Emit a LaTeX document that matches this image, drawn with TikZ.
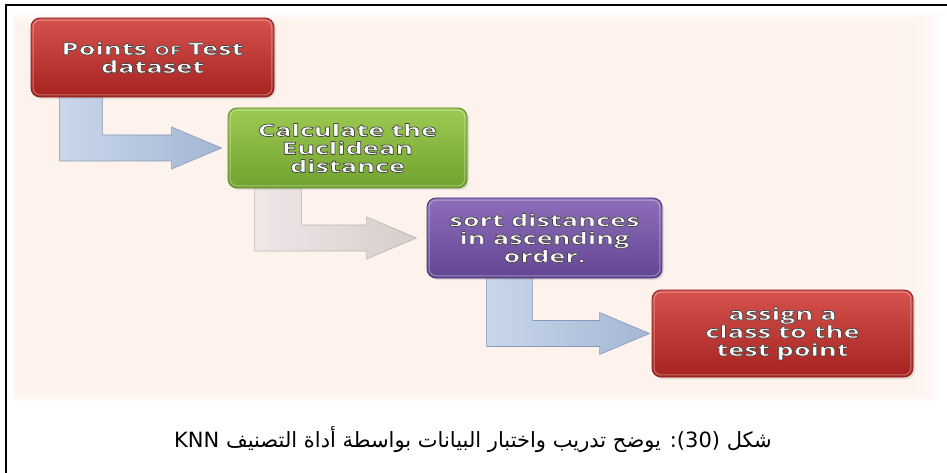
\documentclass[tikz,border=0pt]{standalone}
\usepackage{fontspec}
\TeXXeTstate=1
\setmainfont{Open Sans}
\newfontfamily\boxfont[FakeStretch=1.6]{Open Sans}
\newfontfamily\arabicfont[Script=Arabic]{DejaVu Sans}
\usetikzlibrary{calc,shadows}

\definecolor{peach}{HTML}{FDF3EC}
\definecolor{redtop}{HTML}{D6524D}
\definecolor{redbot}{HTML}{A6221F}
\definecolor{redline}{HTML}{8A1B19}
\definecolor{greentop}{HTML}{9DCA52}
\definecolor{greenbot}{HTML}{71A22F}
\definecolor{greenline}{HTML}{5A8722}
\definecolor{purpletop}{HTML}{8E6EBA}
\definecolor{purplebot}{HTML}{634594}
\definecolor{purpleline}{HTML}{4A3276}
\definecolor{bluelight}{HTML}{CAD7EA}
\definecolor{bluedark}{HTML}{A3B6D4}
\definecolor{blueline}{HTML}{8799BA}
\definecolor{greylight}{HTML}{EFE8E8}
\definecolor{greydark}{HTML}{D6CCCC}
\definecolor{greyline}{HTML}{BDB2B2}

% white lettering with a dark outline (fill + stroke text rendering mode)
\newcommand{\gl}[1]{\special{pdf:literal direct 1 j 2 Tr 0.75 w 0.28 0.28 0.28 RG}#1\special{pdf:literal direct 0 Tr}}

\pgfdeclarelayer{back}
\pgfdeclarelayer{arrows}
\pgfsetlayers{back,arrows,main}

% bent arrow running down from #1 and across into #2
% #3 stem inset from the left side of #1, #4 stem width, #5 gap before #2, #6 style
\newcommand{\bendarrow}[6]{%
  \path[#6] let \p1=(#1.south west), \p2=(#2.west) in
    (\x1+#3,\y1+2pt) -- (\x1+#3+#4,\y1+2pt) -- (\x1+#3+#4,\y2+13pt)
    -- (\x2-#5-50pt,\y2+13pt) -- (\x2-#5-50pt,\y2+21pt) -- (\x2-#5,\y2)
    -- (\x2-#5-50pt,\y2-21pt) -- (\x2-#5-50pt,\y2-13pt) -- (\x1+#3,\y2-13pt) -- cycle;
}
% soft light rim just inside a step box
\newcommand{\rim}[1]{%
  \draw[white, opacity=0.35, line width=1pt, rounded corners=7pt]
    ($(#1.south west)+(2.5,-2.5)$) rectangle ($(#1.north east)+(-2.5,2.5)$);
}

\begin{document}
\begin{tikzpicture}[x=1pt,y=-1pt,
  stepbox/.style={rounded corners=9pt, line width=0.8pt, text=white, align=center,
    inner sep=0pt, font=\boxfont\bfseries\fontsize{17}{18}\selectfont,
    drop shadow={shadow xshift=2pt,shadow yshift=-2pt,opacity=0.22}},
  redbox/.style={stepbox, top color=redtop, bottom color=redbot, draw=redline},
  greenbox/.style={stepbox, top color=greentop, bottom color=greenbot, draw=greenline},
  purplebox/.style={stepbox, top color=purpletop, bottom color=purplebot, draw=purpleline},
  bluearrow/.style={left color=bluelight, right color=bluedark, draw=blueline, line width=0.6pt, line join=round},
  greyarrow/.style={left color=greylight, right color=greydark, draw=greyline, line width=0.6pt, line join=round}
]
\useasboundingbox (0,0) rectangle (947,473);

% page and the soft peach panel behind the flow, its edges fading out
\begin{pgfonlayer}{back}
  \fill[white] (0,0) rectangle (947,473);
  \foreach \i in {0,...,7}
    \fill[peach, fill opacity=0.3]
      (14+0.3*\i,13+2.2*\i) rectangle (938-5.5*\i,401-1.8*\i);
\end{pgfonlayer}

% frame
\draw[line width=2pt] (6,473) -- (6,5) -- (947,5);

% process steps
\node[redbox, minimum width=243, minimum height=79] (b1) at (152.5,57.5)
  {\gl{Points {\fontsize{12.5}{12.5}\selectfont OF} Test}\\\gl{dataset}};
\node[greenbox, minimum width=239, minimum height=80] (b2) at (347.5,148)
  {\gl{Calculate the}\\\gl{Euclidean}\\\gl{distance}};
\node[purplebox, minimum width=235, minimum height=80] (b3) at (544.5,238)
  {\gl{sort distances}\\\gl{in ascending}\\\gl{order.}};
\node[redbox, minimum width=261, minimum height=87] (b4) at (782.5,333.5)
  {\gl{assign a}\\\gl{class to the}\\\gl{test point}};
\rim{b1}\rim{b2}\rim{b3}\rim{b4}

% connecting bent arrows
\begin{pgfonlayer}{arrows}
  \bendarrow{b1}{b2}{29pt}{43pt}{6pt}{bluearrow}
  \bendarrow{b2}{b3}{27pt}{47pt}{10pt}{greyarrow}
  \bendarrow{b3}{b4}{60pt}{46pt}{2pt}{bluearrow}
\end{pgfonlayer}

% caption
\node[inner sep=0pt] (cap) at (473,440)
  {\arabicfont\fontsize{21}{21}\selectfont\beginR شكل \beginL(30)\endL: يوضح تدريب واختبار البيانات بواسطة أداة التصنيف \beginL KNN\endL\endR};
\end{tikzpicture}
\end{document}
